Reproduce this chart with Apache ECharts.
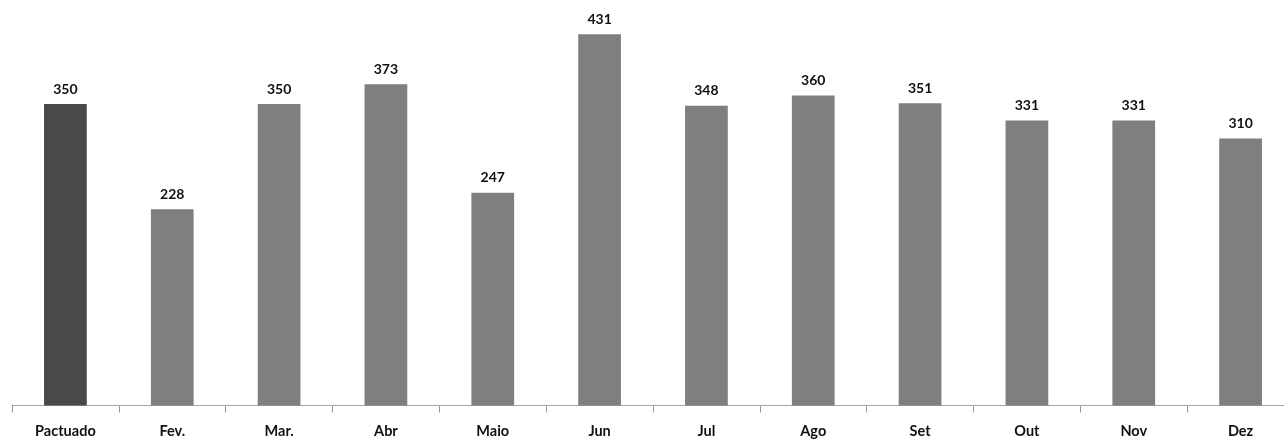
<!DOCTYPE html>
<html>
<head>
<meta charset="utf-8">
<script src="https://cdn.jsdelivr.net/npm/echarts@6/dist/echarts.min.js"></script>
<style>
  html, body { margin: 0; padding: 0; background: #fff; overflow: hidden; }
  #chart { width: 1294px; height: 439px; }
</style>
</head>
<body>
<div id="chart"></div>
<script>
const categories = ['Pactuado', 'Fev.', 'Mar.', 'Abr', 'Maio', 'Jun', 'Jul', 'Ago', 'Set', 'Out', 'Nov', 'Dez']
const values = [350, 228, 350, 373, 247, 431, 348, 360, 351, 331, 331, 310]
const barColors = ['#494949', '#7f7f7f', '#7f7f7f', '#7f7f7f', '#7f7f7f', '#7f7f7f', '#7f7f7f', '#7f7f7f', '#7f7f7f', '#7f7f7f', '#7f7f7f', '#7f7f7f']

// plot area is a bit wider than the window, like the original (cut at the right)
const chart = echarts.init(document.getElementById('chart'))

chart.setOption({
  animation: false,
  grid: {
    left: 12,
    right: 0,
    top: 18,
    bottom: 33.5,
    containLabel: false
  },
  xAxis: {
    type: 'category',
    data: categories,
    axisLine: {
      lineStyle: { color: '#a6a6a6', width: 1 }
    },
    axisTick: {
      show: true,
      interval: 0,
      length: 7,
      lineStyle: { color: '#9a9a9a' }
    },
    axisLabel: {
      margin: 18,
      color: '#111',
      fontFamily: 'Lato',
      fontWeight: 'bold',
      fontSize: 14.5
    }
  },
  yAxis: {
    type: 'value',
    min: 0,
    max: 450,
    show: false,
    splitLine: { show: false }
  },
  series: [{
    type: 'bar',
    data: values.map((v, i) => ({
      value: v,
      itemStyle: { color: barColors[i] }
    })),
    barWidth: '40%',
    label: {
      show: true,
      position: 'top',
      distance: 8,
      color: '#111',
      fontFamily: 'Lato',
      fontWeight: 'bold',
      fontSize: 14
    }
  }]
})
</script>
</body>
</html>
